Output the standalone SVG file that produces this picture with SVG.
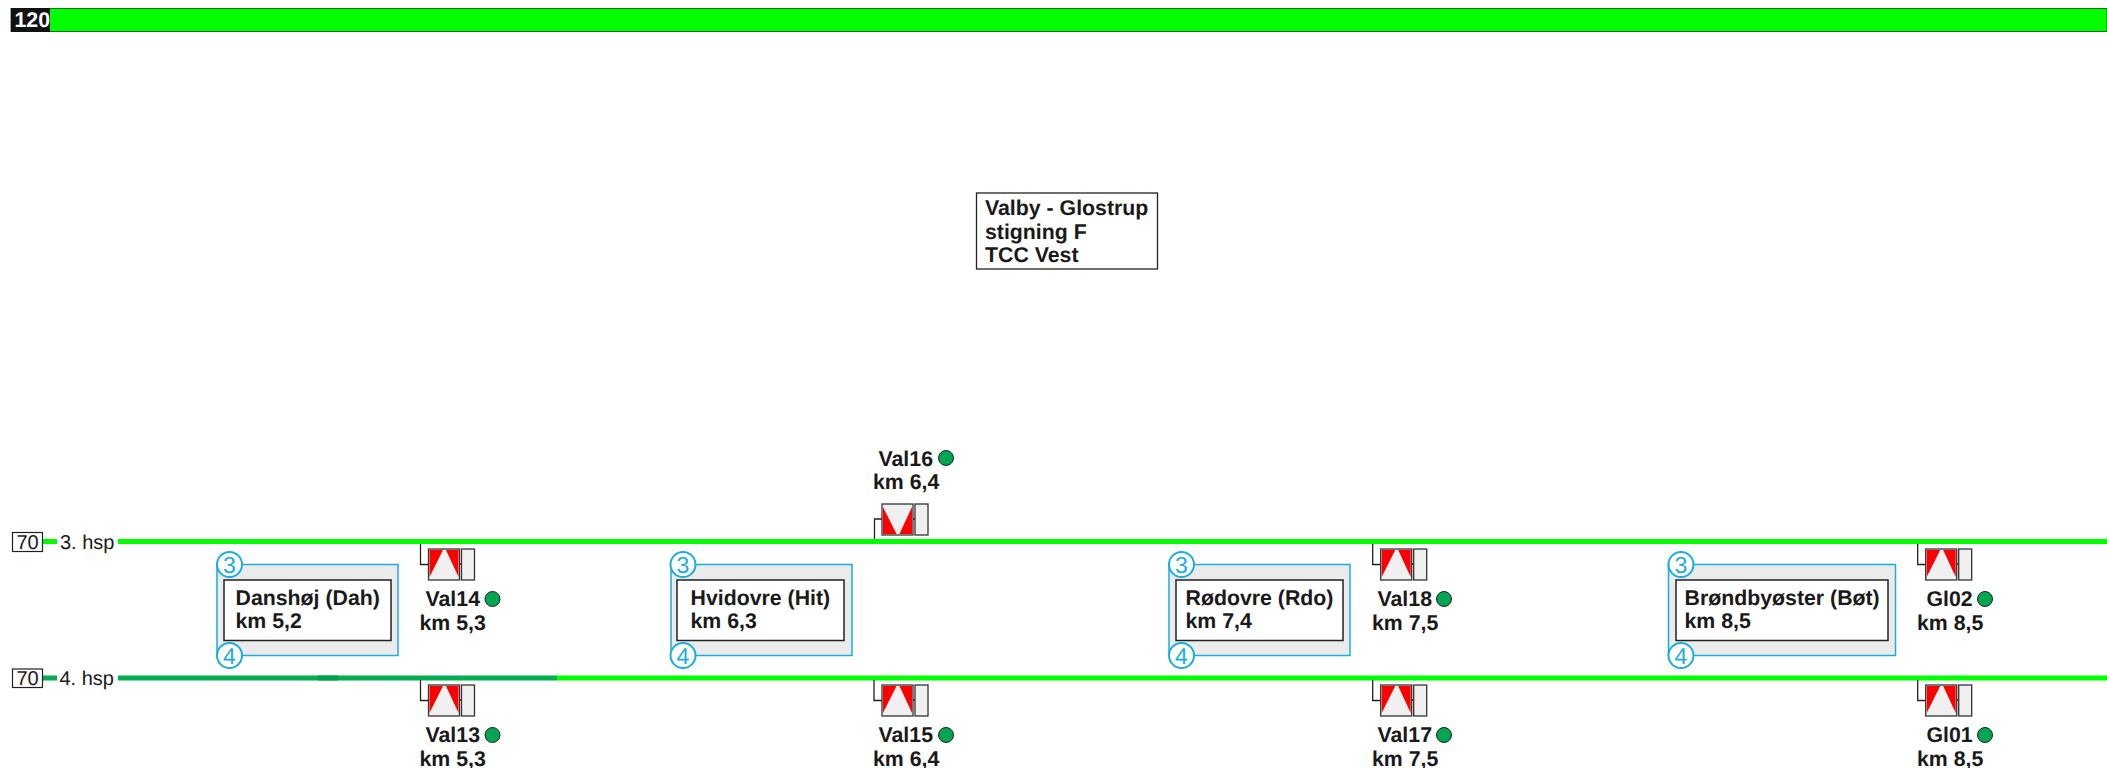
<svg xmlns="http://www.w3.org/2000/svg" width="2107" height="768" viewBox="0 0 2107 768">
<style>
text{font-family:"Liberation Sans",Arial,sans-serif;fill:#1a1a1a;text-rendering:geometricPrecision}
.b{font-weight:bold;font-size:21.300px}
.t{font-size:20px}
.trk{stroke:#00ff00;stroke-width:5;fill:none}
.trd{stroke:#00b050;stroke-width:5;fill:none}
.out{fill:#ebebeb;stroke:#1aaedc;stroke-width:1.5}
.in{fill:#fff;stroke:#222;stroke-width:1.5}
.c{fill:#fff;stroke:#1aaedc;stroke-width:2}
.n{fill:#1aaedc;font-size:23px;text-anchor:middle}
.sb{fill:#f0f0f0;stroke:#333;stroke-width:1.3}
.r{fill:#ff0000}
.w{fill:none;stroke:#222;stroke-width:1.3}
.d{fill:#00a651;stroke:#222;stroke-width:1}
</style>
<defs>
<g id="sig"><path class="w" d="M-5 -5V15.500H3M33.500 15H36"/><rect class="sb" x="3" y="0" width="31" height="31"/><path class="r" d="M4 1H17.500L4 28ZM33 1H20.500L33 28Z"/><rect class="sb" x="36" y="0" width="13" height="31"/></g>
<g id="sigf"><path class="w" d="M-7.500 35V15H0M31 15H33"/><rect class="sb" x="0" y="0" width="31" height="31"/><path class="r" d="M1 3L14.500 30H1ZM30 3L17.500 30H30Z"/><rect class="sb" x="33" y="0" width="13" height="31"/></g>
</defs>
<g id="speedbar"><rect x="11" y="8.500" width="2096" height="23" fill="#00ff00" stroke="#1a6b1a" stroke-width="1"/><rect x="11" y="8" width="39" height="24" fill="#111"/><text x="14.500" y="27" font-size="21.300" font-weight="bold" style="fill:#fff">120</text></g>
<g id="connectors">
<path class="trk" d="M43 541.500H57M118 541.500H2107"/>
<path class="trk" d="M556 678H2107"/>
<path class="trd" d="M43 678H57M118 678H557"/>
<path d="M318 678H338" stroke="#00a050" stroke-width="5" fill="none"/>
</g>
<g id="title"><rect x="976.500" y="193" width="181" height="76" fill="#fff" stroke="#222" stroke-width="1.300"/><text class="b" x="985" y="215">Valby - Glostrup</text><text class="b" x="985" y="239">stigning F</text><text class="b" x="985" y="262">TCC Vest</text></g>
<g id="track3"><rect x="12.500" y="532.500" width="30" height="19" fill="#fff" stroke="#222" stroke-width="1.200"/><text class="t" x="27.500" y="548.500" text-anchor="middle">70</text><text class="t" x="60" y="548.500">3. hsp</text></g>
<g id="track4"><rect x="12.500" y="669" width="30" height="18.500" fill="#fff" stroke="#222" stroke-width="1.200"/><text class="t" x="27.500" y="685" text-anchor="middle">70</text><text class="t" x="59.500" y="685">4. hsp</text></g>
<g id="st-dah"><rect class="out" x="217" y="564.500" width="181" height="91"/><rect class="in" x="224" y="580" width="167" height="60.500"/><circle class="c" cx="229.500" cy="564.500" r="12.500"/><circle class="c" cx="229.500" cy="655.500" r="12.500"/><text class="n" x="229.500" y="572.500">3</text><text class="n" x="229.500" y="663.500">4</text><text class="b" x="235.500" y="604.500">Danshøj (Dah)</text><text class="b" x="235.500" y="628">km 5,2</text></g>
<g id="st-hit"><rect class="out" x="671" y="564.500" width="181" height="91"/><rect class="in" x="677" y="580" width="167" height="60.500"/><circle class="c" cx="683" cy="564.500" r="12.500"/><circle class="c" cx="683" cy="655.500" r="12.500"/><text class="n" x="683" y="572.500">3</text><text class="n" x="683" y="663.500">4</text><text class="b" x="690.500" y="604.500">Hvidovre (Hit)</text><text class="b" x="690.500" y="628">km 6,3</text></g>
<g id="st-rdo"><rect class="out" x="1169" y="564.500" width="181" height="91"/><rect class="in" x="1176" y="580" width="167" height="60.500"/><circle class="c" cx="1181.500" cy="564.500" r="12.500"/><circle class="c" cx="1181.500" cy="655.500" r="12.500"/><text class="n" x="1181.500" y="572.500">3</text><text class="n" x="1181.500" y="663.500">4</text><text class="b" x="1185.500" y="604.500">Rødovre (Rdo)</text><text class="b" x="1185.500" y="628">km 7,4</text></g>
<g id="st-bot"><rect class="out" x="1668.500" y="564.500" width="227" height="91"/><rect class="in" x="1676" y="580" width="212" height="60.500"/><circle class="c" cx="1681" cy="564.500" r="12.500"/><circle class="c" cx="1681" cy="655.500" r="12.500"/><text class="n" x="1681" y="572.500">3</text><text class="n" x="1681" y="663.500">4</text><text class="b" x="1684.500" y="604.500">Brøndbyøster (Bøt)</text><text class="b" x="1684.500" y="628">km 8,5</text></g>
<g id="val14"><use href="#sig" x="425.500" y="549"/><text class="b" x="425.500" y="605.500">Val14</text><circle class="d" cx="492.500" cy="599" r="7.500"/><text class="b" x="419.500" y="629.500">km 5,3</text></g>
<g id="val13"><use href="#sig" x="425.500" y="685"/><text class="b" x="425.500" y="741.500">Val13</text><circle class="d" cx="492.500" cy="735" r="7.500"/><text class="b" x="419.500" y="765.500">km 5,3</text></g>
<g id="val16"><use href="#sigf" x="882" y="504"/><text class="b" x="878.500" y="466">Val16</text><circle class="d" cx="946" cy="458" r="7.500"/><text class="b" x="873" y="489">km 6,4</text></g>
<g id="val15"><use href="#sig" x="879" y="685"/><text class="b" x="878.500" y="741.500">Val15</text><circle class="d" cx="946" cy="735" r="7.500"/><text class="b" x="873" y="765.500">km 6,4</text></g>
<g id="val18"><use href="#sig" x="1377.700" y="549"/><text class="b" x="1377.500" y="605.500">Val18</text><circle class="d" cx="1444" cy="599" r="7.500"/><text class="b" x="1372" y="629.500">km 7,5</text></g>
<g id="val17"><use href="#sig" x="1377.700" y="685"/><text class="b" x="1377.500" y="741.500">Val17</text><circle class="d" cx="1444" cy="735" r="7.500"/><text class="b" x="1372" y="765.500">km 7,5</text></g>
<g id="gl02"><use href="#sig" x="1922.700" y="549"/><text class="b" x="1926.500" y="605.500">Gl02</text><circle class="d" cx="1985" cy="599" r="7.500"/><text class="b" x="1917" y="629.500">km 8,5</text></g>
<g id="gl01"><use href="#sig" x="1922.700" y="685"/><text class="b" x="1926.500" y="741.500">Gl01</text><circle class="d" cx="1985" cy="735" r="7.500"/><text class="b" x="1917" y="765.500">km 8,5</text></g>
</svg>
